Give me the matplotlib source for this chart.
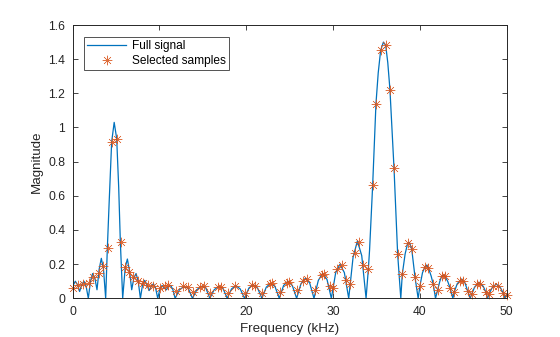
import matplotlib
matplotlib.use("Agg")
import matplotlib.pyplot as plt

plt.rcParams['font.family'] = ['Liberation Sans', 'DejaVu Sans']

# Full signal (frequency in kHz, magnitude)
full_freq = [0.0, 0.3, 0.55, 0.8, 1.05, 1.3, 1.55, 1.8, 2.05, 2.3, 2.55, 2.8, 3.05, 3.3, 3.55, 3.8,
             3.99, 4.2, 4.49, 4.78, 5.07, 5.3, 5.49, 5.76,
             6.05, 6.3, 6.55, 6.8, 7.05, 7.3, 7.55, 7.8, 8.05, 8.3, 8.55, 8.8, 9.05, 9.3, 9.55, 9.8,
             10.05, 10.3, 10.55, 10.8, 11.05, 11.3, 11.55, 11.8,
             12.3, 12.8, 13.3, 13.8, 14.3, 14.8, 15.3, 15.8, 16.3, 16.8, 17.3, 17.8,
             18.3, 18.8, 19.3, 19.8, 20.3, 20.8, 21.3, 21.8, 22.3, 22.8, 23.3, 23.8,
             24.3, 24.8, 25.3, 25.8, 26.3, 26.8, 27.3, 27.8, 28.3, 28.8, 29.3, 29.8,
             30.3, 30.8, 31.3, 31.8, 32.3, 32.8, 33.3, 33.8,
             34.06, 34.2, 34.56, 34.94, 35.2, 35.48, 35.8, 36.06, 36.3, 36.55, 37.02, 37.44, 37.8,
             37.97, 38.3, 38.59, 38.8, 39.06, 39.44, 39.8,
             40.01, 40.3, 40.59, 40.8, 40.97, 41.3, 41.54, 41.8,
             42.05, 42.3, 42.51, 42.8, 43.2, 43.47, 43.8,
             43.97, 44.3, 44.8, 45.2, 45.5, 45.8,
             45.97, 46.3, 46.8, 47.3, 47.58, 47.8,
             47.96, 48.3, 48.8, 49.3, 49.61, 49.8, 50.0]
full_mag = [0.07, 0.10, 0.08, 0.04, 0.08, 0.10, 0.07, 0.0, 0.10, 0.145, 0.12, 0.05, 0.17, 0.234, 0.17, 0.0,
            0.29, 0.56, 0.916, 1.03, 0.935, 0.65, 0.33, 0.0,
            0.18, 0.23, 0.16, 0.05, 0.12, 0.145, 0.10, 0.0, 0.08, 0.105, 0.08, 0.045, 0.07, 0.085, 0.06, 0.0,
            0.055, 0.075, 0.06, 0.05, 0.07, 0.075, 0.05, 0.0,
            0.05, 0.068, 0.06, 0.0, 0.05, 0.07, 0.065, 0.0, 0.05, 0.07, 0.06, 0.0,
            0.055, 0.074, 0.055, 0.0, 0.06, 0.08, 0.06, 0.0, 0.065, 0.088, 0.07, 0.0,
            0.075, 0.10, 0.075, 0.0, 0.085, 0.117, 0.09, 0.0, 0.105, 0.146, 0.11, 0.0,
            0.15, 0.20, 0.15, 0.0, 0.24, 0.335, 0.25, 0.0,
            0.17, 0.28, 0.663, 1.14, 1.32, 1.452, 1.50, 1.481, 1.38, 1.222, 0.76, 0.257, 0.0,
            0.14, 0.26, 0.322, 0.327, 0.288, 0.123, 0.0,
            0.074, 0.15, 0.185, 0.195, 0.179, 0.13, 0.082, 0.0,
            0.049, 0.10, 0.13, 0.136, 0.10, 0.062, 0.0,
            0.039, 0.085, 0.113, 0.09, 0.043, 0.0,
            0.025, 0.065, 0.094, 0.07, 0.039, 0.0,
            0.025, 0.06, 0.084, 0.06, 0.029, 0.0, 0.025]

# Selected samples
samp_freq = [0.0, 0.65, 1.22, 1.91, 2.38, 3.03, 3.53, 4.03, 4.49, 5.07, 5.53, 6.03, 6.52, 6.98,
             7.56, 8.13, 8.71, 9.29, 10.06, 10.63, 11.02, 11.85, 12.74, 13.32, 13.89, 14.67,
             15.16, 15.82, 16.78, 17.08, 17.93, 18.7, 19.85, 20.69, 21.0, 21.86, 22.73, 23.0,
             23.88, 24.65, 24.92, 25.8, 26.57, 26.96, 27.91, 28.76, 28.99, 29.64, 30.02, 30.41,
             31.06, 31.49, 31.95, 32.52, 33.02, 33.48, 34.06, 34.56, 34.94, 35.48, 36.06, 36.55,
             37.02, 37.44, 37.97, 38.59, 39.06, 39.44, 40.01, 40.59, 40.97, 41.54, 42.05, 42.51,
             42.89, 43.47, 43.97, 44.62, 45.0, 45.5, 45.97, 46.54, 46.92, 47.58, 47.96, 48.46,
             49.03, 49.61, 50.0]
samp_mag = [0.058, 0.078, 0.084, 0.088, 0.123, 0.146, 0.19, 0.292, 0.916, 0.935, 0.331, 0.181, 0.156, 0.126,
            0.101, 0.088, 0.078, 0.074, 0.058, 0.074, 0.078, 0.042, 0.072, 0.064, 0.039, 0.064,
            0.072, 0.033, 0.064, 0.068, 0.033, 0.072, 0.033, 0.078, 0.072, 0.03, 0.084, 0.088,
            0.039, 0.088, 0.097, 0.049, 0.103, 0.111, 0.049, 0.136, 0.142, 0.072, 0.058, 0.17,
            0.195, 0.107, 0.084, 0.263, 0.331, 0.195, 0.17, 0.663, 1.14, 1.452, 1.481, 1.222,
            0.76, 0.257, 0.14, 0.322, 0.288, 0.123, 0.074, 0.185, 0.179, 0.082, 0.049, 0.13,
            0.13, 0.062, 0.039, 0.101, 0.101, 0.043, 0.025, 0.082, 0.082, 0.039, 0.025, 0.074,
            0.074, 0.029, 0.02]

x_ticks = [0, 10, 20, 30, 40, 50]
y_ticks = [0, 0.2, 0.4, 0.6, 0.8, 1.0, 1.2, 1.4, 1.6]
y_tick_labels = ['0', '0.2', '0.4', '0.6', '0.8', '1', '1.2', '1.4', '1.6']

blue = '#0072BD'
orange = '#D95319'

fig = plt.figure(figsize=(5.6, 3.37), dpi=100)
ax = fig.add_axes([0.1298, 0.1148, 0.7750, 0.8110])

ax.plot(full_freq, full_mag, color=blue, lw=0.9, label='Full signal')
ax.plot(samp_freq, samp_mag, ls='none', marker=(8, 2, 0), color=orange, ms=7, mew=0.35,
        alpha=0.85, label='Selected samples', clip_on=False)

ax.set_xlim(0, 50)
ax.set_ylim(0, 1.6)
ax.set_xticks(x_ticks)
ax.set_yticks(y_ticks)
ax.set_yticklabels(y_tick_labels)
ax.tick_params(direction='in', top=True, right=True, labelsize=8.7, length=3.5, width=0.6,
               colors='#262626', pad=5.5)
for sp in ax.spines.values():
    sp.set_linewidth(0.7)
    sp.set_color('#262626')
ax.set_xlabel('Frequency (kHz)', fontsize=9.6, color='#262626', labelpad=3.5)
ax.set_ylabel('Magnitude', fontsize=9.6, color='#262626', labelpad=4)

leg = ax.legend(loc='upper left', bbox_to_anchor=(0.026, 0.957), borderaxespad=0,
                fontsize=8.6, frameon=True, fancybox=False, edgecolor='#262626',
                handlelength=3.3, handletextpad=0.45, labelspacing=0.25, borderpad=0.25)
leg.get_frame().set_linewidth(0.7)

fig.savefig('out.png', dpi=100)
